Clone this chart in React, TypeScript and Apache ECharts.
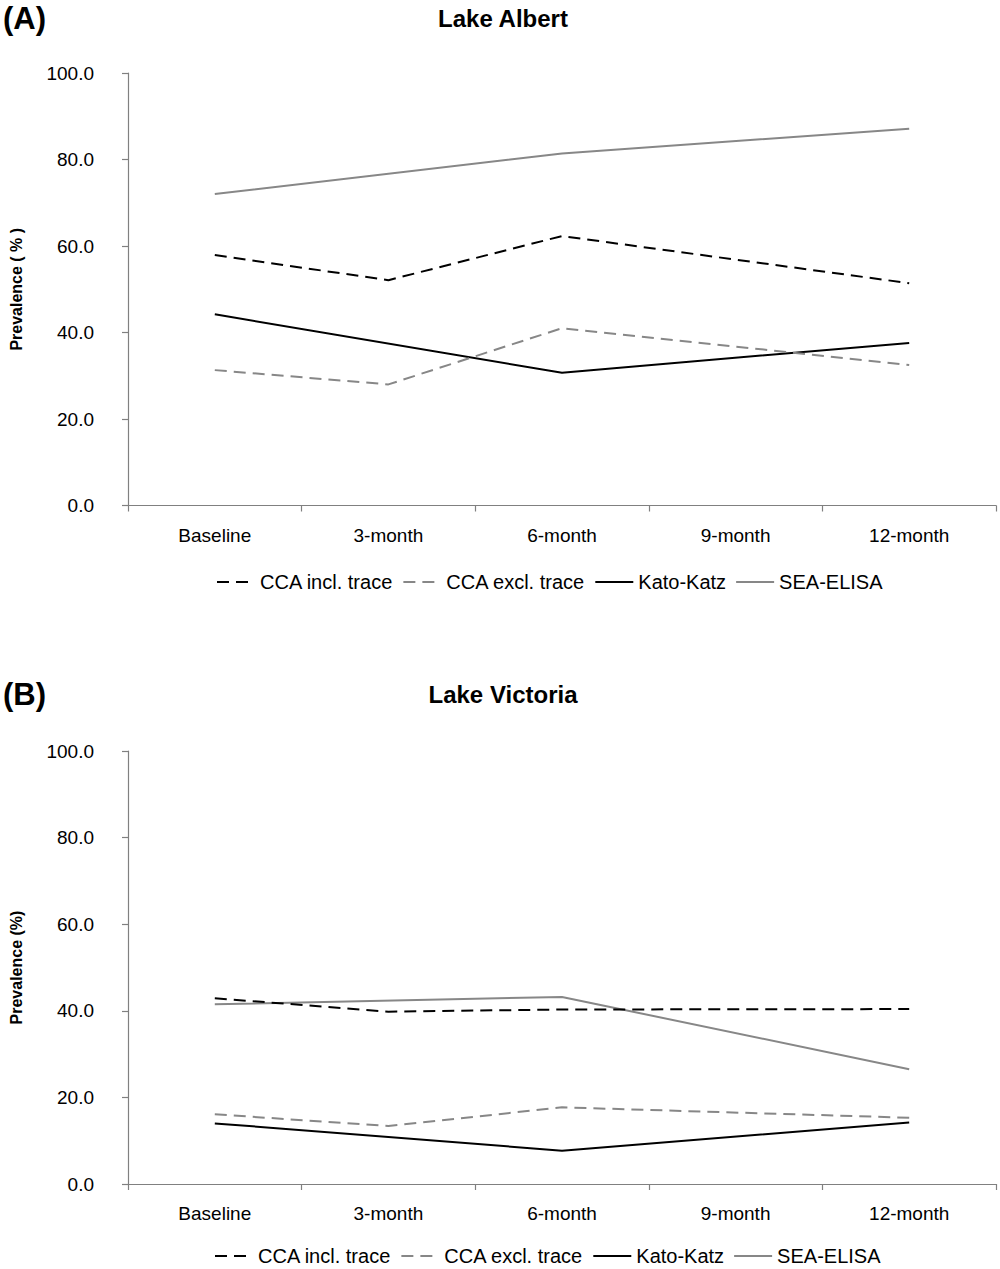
import React, { useEffect, useRef } from "react";
import * as echarts from "echarts";

const categories = ["Baseline", "3-month", "6-month", "9-month", "12-month"];
const yTicks = [0, 20, 40, 60, 80, 100];
const seriesNames = ["CCA incl. trace", "CCA excl. trace", "Kato-Katz", "SEA-ELISA"];

const albertCcaIncl = [57.9, 52.1, 62.3, null, 51.4];
const albertCcaExcl = [31.3, 28.0, 41.0, null, 32.5];
const albertKatoKatz = [44.2, null, 30.7, null, 37.6];
const albertSeaElisa = [72.0, null, 81.4, null, 87.1];

const victoriaCcaIncl = [42.9, 39.8, 40.3, null, 40.4];
const victoriaCcaExcl = [16.1, 13.4, 17.7, null, 15.3];
const victoriaKatoKatz = [14.0, null, 7.7, null, 14.2];
const victoriaSeaElisa = [41.5, null, 43.2, null, 26.5];

const FONT = "Liberation Sans, Arial, sans-serif";
const BLACK = "#000000";
const GRAY = "#878787";
const AXIS = "#808080";

const styles = [
  { color: BLACK, type: [12, 7], width: 2 },
  { color: GRAY, type: [12, 7], width: 2 },
  { color: BLACK, type: "solid", width: 2 },
  { color: GRAY, type: "solid", width: 2 },
];

export default function App() {
  const ref = useRef<HTMLDivElement>(null);
  useEffect(() => {
    if (!ref.current) return;
    const chart = echarts.init(ref.current, null, { renderer: "svg" });
    const grids = [
      { left: 118, width: 878, top: 73, height: 432.5 },
      { left: 118, width: 878, top: 751, height: 433 },
    ];
    const mkX = (gi: number) => ({
      type: "category",
      gridIndex: gi,
      data: categories,
      boundaryGap: true,
      axisLine: { lineStyle: { color: AXIS, width: 1.2 } },
      axisTick: { show: true, length: 6, lineStyle: { color: AXIS, width: 1.2 } },
      axisLabel: { color: "#000", fontFamily: FONT, fontSize: 19, margin: 20 },
    });
    const mkY = (gi: number, name: string) => ({
      type: "value",
      gridIndex: gi,
      min: yTicks[0],
      max: yTicks[yTicks.length - 1],
      interval: 20,
      splitLine: { show: false },
      axisLine: { show: true, lineStyle: { color: AXIS, width: 1.2 } },
      axisTick: { show: true, length: 6, lineStyle: { color: AXIS, width: 1.2 } },
      axisLabel: {
        color: "#000",
        fontFamily: FONT,
        fontSize: 19,
        margin: 34,
        formatter: (v: number) => v.toFixed(1),
      },
      name,
      nameLocation: "middle",
      nameGap: 104,
      nameTextStyle: { color: "#000", fontFamily: FONT, fontSize: 16, fontWeight: "bold" },
    });
    const groups = [
      [albertCcaIncl, albertCcaExcl, albertKatoKatz, albertSeaElisa],
      [victoriaCcaIncl, victoriaCcaExcl, victoriaKatoKatz, victoriaSeaElisa],
    ];
    const series: any[] = [];
    groups.forEach((g, gi) => {
      g.forEach((d, i) => {
        series.push({
          type: "line",
          name: seriesNames[i],
          xAxisIndex: gi,
          yAxisIndex: gi,
          data: d,
          connectNulls: true,
          symbol: "none",
          showSymbol: false,
          lineStyle: { ...styles[i] },
          itemStyle: { color: styles[i].color },
          z: 10 - i,
        });
      });
    });
    const legendBase = {
      orient: "horizontal",
      itemWidth: 38,
      itemHeight: 10,
      itemGap: 9,
      data: seriesNames,
      itemStyle: { opacity: 0 },
      textStyle: { color: "#000", fontFamily: FONT, fontSize: 20 },
      selectedMode: false,
    };
    chart.setOption({
      animation: false,
      backgroundColor: "#fff",
      title: [
        {
          text: "Lake Albert",
          left: 498,
          textAlign: "center",
          top: 1,
          textStyle: { fontFamily: FONT, fontSize: 24, fontWeight: "bold", color: "#000" },
        },
        {
          text: "Lake Victoria",
          left: 498,
          textAlign: "center",
          top: 677,
          textStyle: { fontFamily: FONT, fontSize: 24, fontWeight: "bold", color: "#000" },
        },
        {
          text: "(A)",
          left: -2,
          top: -2,
          textStyle: { fontFamily: FONT, fontSize: 31, fontWeight: "bold", color: "#000" },
        },
        {
          text: "(B)",
          left: -2,
          top: 674,
          textStyle: { fontFamily: FONT, fontSize: 31, fontWeight: "bold", color: "#000" },
        },
      ],
      grid: grids,
      xAxis: [mkX(0), mkX(1)],
      yAxis: [mkY(0, "Prevalence ( % )"), mkY(1, "Prevalence (%)")],
      legend: [
        { ...legendBase, left: 211, top: 567 },
        { ...legendBase, left: 209, top: 1241 },
      ],
      series,
    });
    return () => chart.dispose();
  }, []);
  return (
    <div
      ref={ref}
      style={{ position: "absolute", left: 0, top: 0, width: 1000, height: 1269 }}
    />
  );
}
